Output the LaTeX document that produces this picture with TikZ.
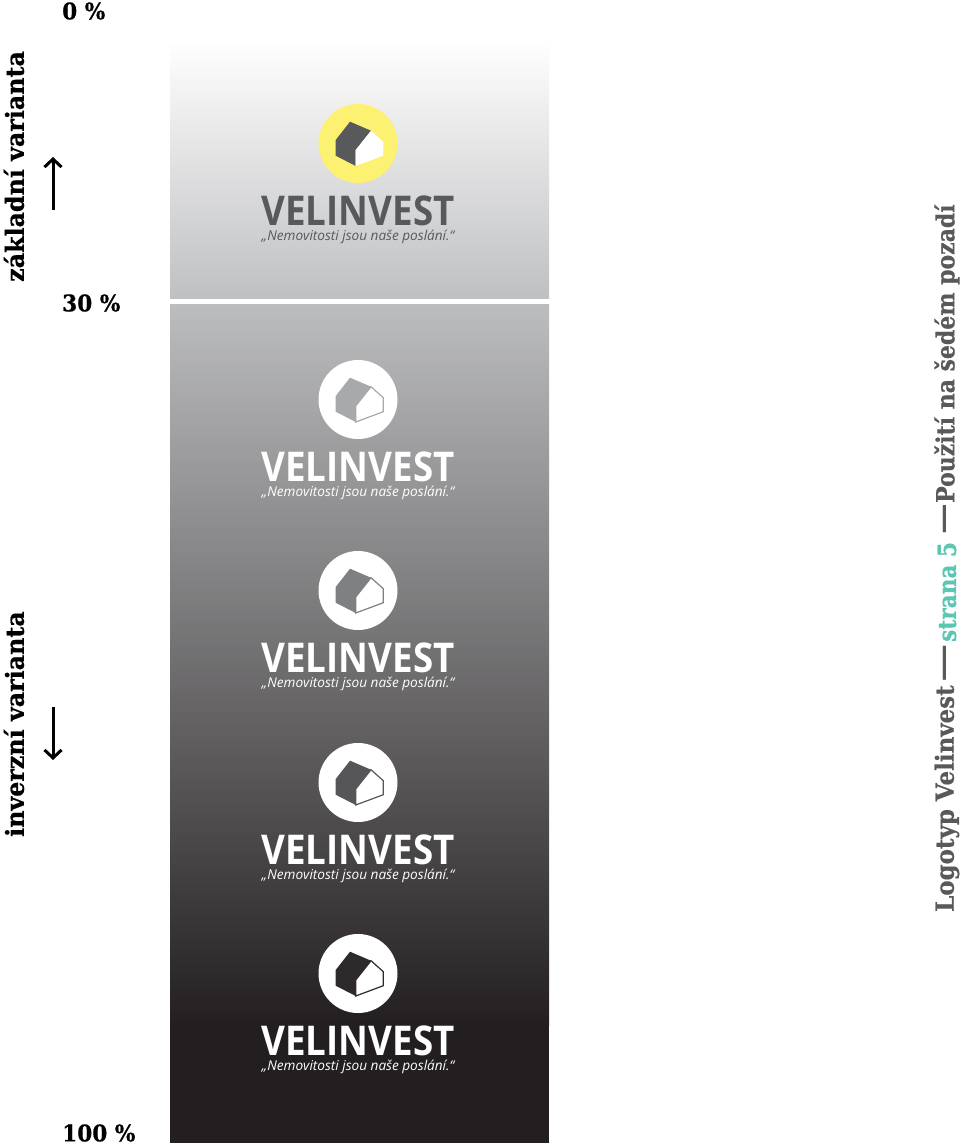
\documentclass[tikz,border=0pt]{standalone}
\usepackage{fontspec}
\usetikzlibrary{arrows.meta}
\setmainfont{Open Sans}
\newfontfamily\slabfont[BoldFeatures={FakeBold=0.6}]{DejaVu Serif}
\definecolor{logogrey}{HTML}{58595B}
\definecolor{logoyellow}{HTML}{FDF172}
\definecolor{pageteal}{HTML}{5CC6B4}
\definecolor{gradtop}{HTML}{BFC0C2}
\definecolor{gradmid}{HTML}{BCBDBF}
\definecolor{gradend}{HTML}{231F20}
\tikzset{
    logoname/.style={font=\fontsize{41}{41}\selectfont\bfseries, inner sep=0pt, xscale=0.895},
    logoslogan/.style={font=\fontsize{13.6}{14}\selectfont\itshape, inner sep=0pt},
    sidelabel/.style={font=\slabfont\bfseries\fontsize{25}{25}\selectfont, inner sep=0pt, rotate=90, anchor=west},
    percent/.style={font=\slabfont\bfseries\fontsize{23}{23}\selectfont, inner sep=0pt, anchor=west, xscale=0.94},
    pagelabel/.style={sidelabel, text=logogrey},
    sidearrow/.style={line width=3pt, -{Straight Barb[length=8pt,width=17pt]}}
}
\begin{document}
\begin{tikzpicture}[x=1pt,y=-1pt]
    \useasboundingbox (0,0) rectangle (960,1146);
    %% Backgrounds
    \shade[top color=white, bottom color=gradtop] (170,40) rectangle (549,298);
    \shade[top color=gradmid, bottom color=gradend] (170,304) rectangle (549,1025);
    \fill[gradend] (170,1024.5) rectangle (549,1143);
    %% Basic logo
    \fill[logoyellow] (358,143.5) circle (39.5);
    \fill[logogrey] (350,121.7) -- (371,130.7) -- (355.7,150) -- (355.7,166) -- (335.7,155.7) -- (335.7,140) -- cycle;
    \fill[white] (371,130.7) -- (383.3,141.7) -- (383.3,155.7) -- (355.7,166) -- (355.7,150) -- cycle;
    \node[logoname, text=logogrey] (basename) at (358,210.5) {VELINVEST};
    \node[logoslogan, text=logogrey] (baseslogan) at (358,236.5) {„Nemovitosti jsou naše poslání.“};
    %% Inverse logos
    \foreach \i/\y/\shadec in {1/399.5/A8A9AB, 2/590.5/7F8082, 3/782.5/565557, 4/973.5/2E2A2B} {
        \definecolor{housec}{HTML}{\shadec}
        \fill[white] (358,\y) circle (39.5);
        \begin{scope}[yshift={-(\y-143.5)*1pt}]
            \fill[housec] (350,121.7) -- (371,130.7) -- (355.7,150) -- (355.7,166) -- (335.7,155.7) -- (335.7,140) -- cycle;
            \draw[housec, line width=1.2pt, line join=miter] (371,130.7) -- (383.3,141.7) -- (383.3,155.7) -- (355.7,166) -- (355.7,150) -- cycle;
            \node[logoname, text=white] (name\i) at (358,210.5) {VELINVEST};
            \node[logoslogan, text=white] (slogan\i) at (358,236.5) {„Nemovitosti jsou naše poslání.“};
        \end{scope}
    }
    %% Percent labels
    \node[percent] (zero) at (62,11) {0 \%};
    \node[percent] (thirty) at (62,303) {30 \%};
    \node[percent] (hundred) at (62,1133) {100 \%};
    %% Left labels
    \node[sidelabel, xscale=0.95] (basiclabel) at (14,282) {základní varianta};
    \node[sidelabel, xscale=0.95] (inverselabel) at (14,837) {inverzní varianta};
    \coordinate (basicfrom) at (53,210);
    \coordinate (basicto) at (53,157);
    \coordinate (inversefrom) at (53,707);
    \coordinate (inverseto) at (53,760);
    \draw[sidearrow] (basicfrom) -- (basicto);
    \draw[sidearrow] (inversefrom) -- (inverseto);
    %% Right label
    \node[pagelabel, xscale=0.9175] (pagetitle) at (947,912) {Logotyp Velinvest};
    \node[pagelabel, xscale=1.51] (dashone) at (947,682) {—};
    \node[pagelabel, text=pageteal, xscale=0.8645] (pagenumber) at (947,642) {strana 5};
    \node[pagelabel, xscale=1.21] (dashtwo) at (947,534) {—};
    \node[pagelabel, xscale=0.879] (pagesub) at (947,503) {Použití na šedém pozadí};
\end{tikzpicture}
\end{document}
